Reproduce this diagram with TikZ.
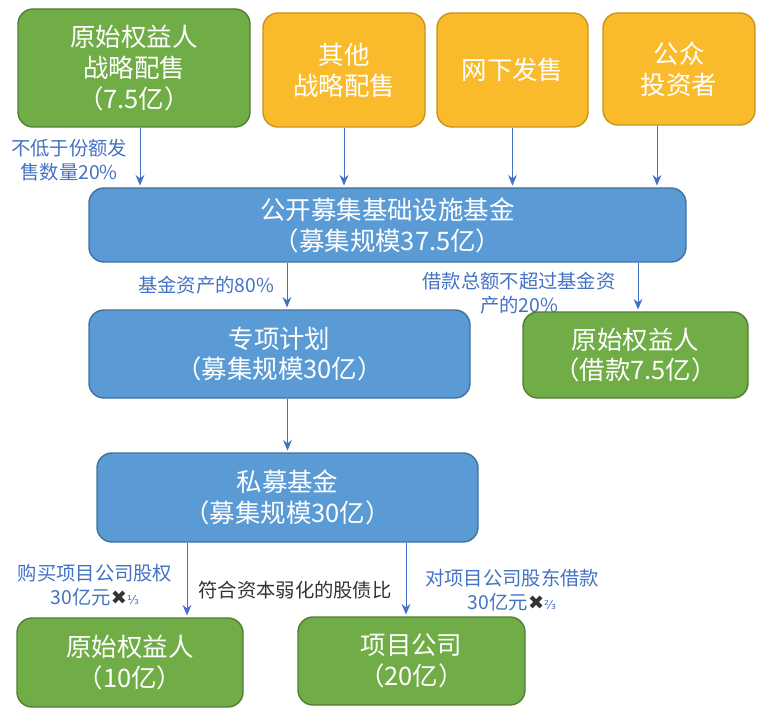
\documentclass[tikz,border=0pt]{standalone}
\usepackage{fontspec}
\setmainfont{Noto Sans CJK SC}
\newfontfamily\sym{DejaVu Sans}
\usetikzlibrary{arrows.meta}
\definecolor{grn}{HTML}{70AD47}
\definecolor{grnline}{HTML}{507E32}
\definecolor{gold}{HTML}{F9BB2B}
\definecolor{goldline}{HTML}{C9941A}
\definecolor{blu}{HTML}{5B9BD5}
\definecolor{bluline}{HTML}{41719C}
\definecolor{lblue}{HTML}{4472C4}
\begin{document}
\begin{tikzpicture}[x=0.2mm,y=-0.2mm,line join=round,>={Stealth[length=6pt,width=5pt]}]
\tikzset{box/.style={rounded corners=3mm,line width=0.8pt,inner sep=0pt,align=center,text=white,font=\fontsize{14.5pt}{17.6pt}\selectfont},
  greenbox/.style={box,fill=grn,draw=grnline},
  goldbox/.style={box,fill=gold,draw=goldline},
  bluebox/.style={box,fill=blu,draw=bluline},
  note/.style={align=center,text=lblue,inner sep=0pt,font=\fontsize{11pt}{14pt}\selectfont},
  arr/.style={->,draw=lblue,line width=0.5pt,shorten >=1pt}}
\useasboundingbox (0,0) rectangle (763,720);
\node[greenbox,minimum width=232*0.2mm,minimum height=118*0.2mm] (orig) at (134,68) {原始权益人\\战略配售\\（7.5亿）};
\node[goldbox,minimum width=162*0.2mm,minimum height=114*0.2mm] (other) at (344,70) {其他\\战略配售};
\node[goldbox,minimum width=151*0.2mm,minimum height=114*0.2mm] (offline) at (512.5,70) {网下发售};
\node[goldbox,minimum width=152*0.2mm,minimum height=112*0.2mm] (public) at (679,69) {公众\\投资者};
\node[bluebox,minimum width=597*0.2mm,minimum height=74*0.2mm] (fund) at (387.5,225) {公开募集基础设施基金\\（募集规模37.5亿）};
\node[bluebox,minimum width=381*0.2mm,minimum height=88*0.2mm] (plan) at (279.5,354) {专项计划\\（募集规模30亿）};
\node[greenbox,minimum width=225*0.2mm,minimum height=86*0.2mm] (loan) at (635.5,355) {原始权益人\\（借款7.5亿）};
\node[bluebox,minimum width=381*0.2mm,minimum height=89*0.2mm] (pe) at (287.5,497.5) {私募基金\\（募集规模30亿）};
\node[greenbox,minimum width=226*0.2mm,minimum height=89*0.2mm] (equity) at (130,662.5) {原始权益人\\（10亿）};
\node[greenbox,minimum width=227*0.2mm,minimum height=88*0.2mm] (proj) at (411.5,661) {项目公司\\（20亿）};
\draw[arr] ([xshift=1.2mm]orig.south) -- ([xshift=1.2mm]orig.south |- fund.north);
\draw[arr] (other.south) -- (other.south |- fund.north);
\draw[arr] (offline.south) -- (offline.south |- fund.north);
\draw[arr] ([xshift=-4.4mm]public.south) -- ([xshift=-4.4mm]public.south |- fund.north);
\draw[arr] ([xshift=1.5mm]plan.north |- fund.south) -- ([xshift=1.5mm]plan.north);
\draw[arr] ([xshift=0.5mm]loan.north |- fund.south) -- ([xshift=0.5mm]loan.north);
\draw[arr] (pe.north |- plan.south) -- (pe.north);
\draw[arr] ([xshift=11.4mm]equity.north |- pe.south) -- ([xshift=11.4mm]equity.north);
\draw[arr] ([xshift=-1.1mm]proj.north |- pe.south) -- ([xshift=-1.1mm]proj.north);
\node[note] (minshare) at (69,160) {不低于份额发\\售数量20\%};
\node[note] (share80) at (206,285) {基金资产的80\%};
\node[note] (cap20) at (519,293) {借款总额不超过基金资\\产的20\%};
\node[note] (buyeq) at (95,585) {购买项目公司股权\\30亿元{\sym\color{black!80}✖}{\sym\scriptsize ⅓}};
\node[note] (lend) at (512,590) {对项目公司股东借款\\30亿元{\sym\color{black!80}✖}{\sym\scriptsize ⅔}};
\node[note,text=black!80] (ratio) at (295,590) {符合资本弱化的股债比};
\end{tikzpicture}
\end{document}
